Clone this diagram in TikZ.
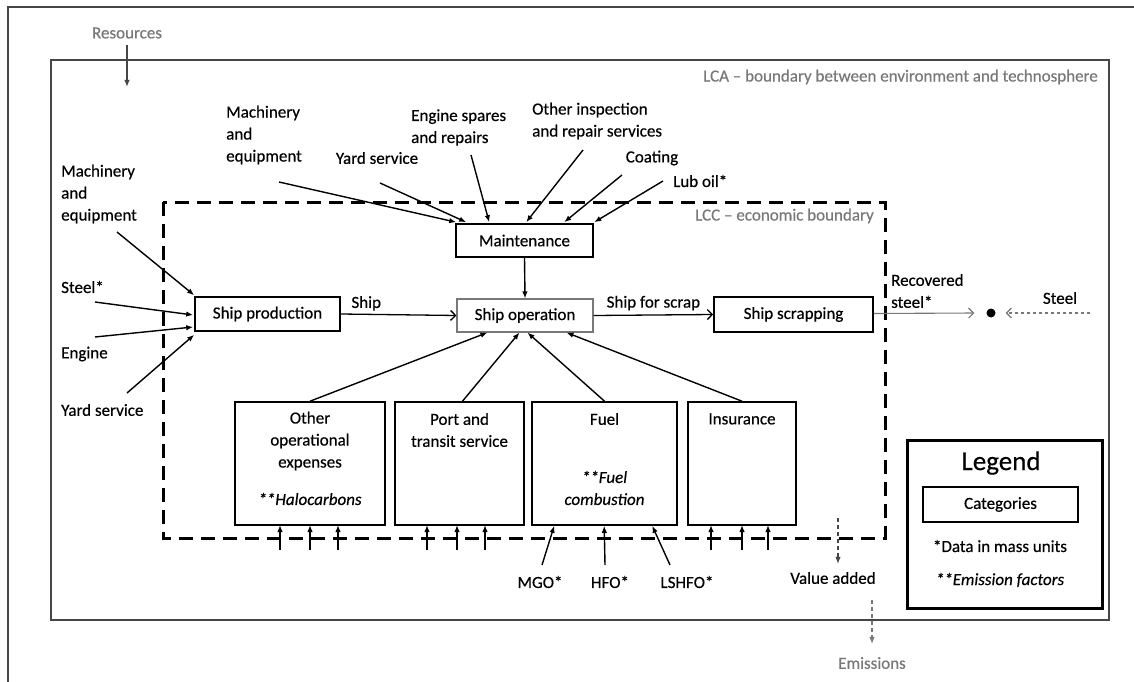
\documentclass[tikz,border=0pt]{standalone}
\usepackage{fontspec}
\setmainfont{Carlito}[FakeBold=0.4]
\usetikzlibrary{arrows.meta,calc}
\definecolor{lgray}{RGB}{120,120,120}
\definecolor{dgray}{RGB}{70,70,70}
\begin{document}
\begin{tikzpicture}[x=1pt,y=-1pt,
  font=\fontsize{17}{22}\selectfont,
  box/.style={draw=black,line width=1.6pt,inner sep=0pt},
  arr/.style={-{Latex[length=7pt,width=5.5pt]},line width=1.4pt},
  oarr/.style={-{Straight Barb[length=5pt,width=10pt]},line width=1.3pt},
  lbl/.style={inner sep=0pt,align=left},
  glbl/.style={inner sep=0pt,text=lgray},
  boxtxt/.style={inner sep=0pt,align=center}]
\useasboundingbox (0,0) rectangle (1134,682);
\fill[white] (0,0) rectangle (1134,682);
% page frame
\draw[dgray,line width=1.5pt] (8,682) -- (8,7) -- (1134,7);
% LCA boundary
\draw[dgray,line width=1.8pt] (51,60) rectangle (1109,620);
\node[glbl,anchor=east] (lcalbl) at (1098,77) {LCA – boundary between environment and technosphere};
% LCC boundary
\draw[black,line width=3pt,dash pattern=on 14pt off 8pt] (163,202) rectangle (885,538);
\node[glbl,anchor=east] (lcclbl) at (874,216) {LCC – economic boundary};
% Resources
\node[glbl] (res) at (127,33) {Resources};
\coordinate (resstart) at (127,45);
\coordinate (resend) at (127,87);
\draw[arr,dgray] (resstart) -- (resend);

% main boxes
\node[box,minimum width=145pt,minimum height=34pt] (sp) at (267.5,314) {Ship production};
\node[box,minimum width=137pt,minimum height=33pt] (mt) at (524.5,240.5) {Maintenance};
\node[box,draw=lgray,line width=1.1pt,minimum width=136pt,minimum height=33pt] (so) at (525,315.5) {Ship operation};
\node[box,minimum width=159pt,minimum height=35pt] (ss) at (793.5,314.5) {Ship scrapping};

% bottom boxes
\node[box,minimum width=150pt,minimum height=123pt] (oe) at (310,463.5) {};
\node[box,minimum width=129pt,minimum height=123pt] (pt) at (459.5,463.5) {};
\node[box,minimum width=145pt,minimum height=123pt] (fu) at (604.5,463.5) {};
\node[box,minimum width=108pt,minimum height=123pt] (in) at (742,463.5) {};
\node[boxtxt] (oet) at (310,441) {Other\\operational\\expenses};
\node[boxtxt] (oeh) at (310,499) {\itshape **Halocarbons};
\node[boxtxt] (ptt) at (459.5,430) {Port and\\transit service};
\node[boxtxt] (fut) at (604.5,419) {Fuel};
\node[boxtxt] (fuc) at (604.5,488) {\itshape **Fuel\\\itshape combustion};
\node[boxtxt] (int) at (742,419) {Insurance};

% left inputs
\node[lbl,anchor=west] (lme) at (61,194) {Machinery\\and\\equipment};
\node[lbl,anchor=west] (lst) at (61,287) {Steel*};
\node[lbl,anchor=west] (len) at (61,354) {Engine};
\node[lbl,anchor=west] (lys) at (61,410) {Yard service};
\coordinate (lmes) at (117,232);
\coordinate (lsts) at (95,302);
\coordinate (lens) at (95,337);
\coordinate (lyss) at (127,393);
\draw[arr] (lmes) -- ($(sp.north west)+(0,-1)$);
\draw[arr] (lsts) -- ($(sp.west)+(-1,1)$);
\draw[arr] (lens) -- ($(sp.west)+(-1,13)$);
\draw[arr] (lyss) -- ($(sp.south west)+(0,3)$);

% top inputs
\node[lbl,anchor=west] (tme) at (226,135) {Machinery\\and\\equipment};
\node[lbl] (tys) at (377,158) {Yard service};
\node[lbl,anchor=west] (tes) at (411,127.5) {Engine spares\\and repairs};
\node[lbl,anchor=west] (toi) at (532,121) {Other inspection\\and repair services};
\node[lbl] (tco) at (652,158) {Coating};
\node[lbl,anchor=west] (tlo) at (673,181) {Lub oil*};
\coordinate (tmes) at (279,182);
\coordinate (tyss) at (380,183);
\coordinate (tess) at (471,155);
\coordinate (tois) at (583,150);
\coordinate (tcos) at (622,175);
\coordinate (tlos) at (663,181);
\draw[arr] (tmes) -- ($(mt.north west)+(1,-1)$);
\draw[arr] (tyss) -- ($(mt.north west)+(11,-1)$);
\draw[arr] (tess) -- ($(mt.north west)+(34,-1)$);
\draw[arr] (tois) -- ($(mt.north west)+(71,-1)$);
\draw[arr] (tcos) -- ($(mt.north west)+(109,-1)$);
\draw[arr] (tlos) -- ($(mt.north west)+(139,-1)$);

% main flow
\draw[oarr] (sp.east) -- (so.west) node[pos=0.22,above=3pt,inner sep=0pt] (shiplbl) {Ship};
\draw[arr] (mt.south) -- (so.north);
\draw[oarr] (so.east) -- (ss.west) node[midway,above=4pt,inner sep=0pt] (sfs) {Ship for scrap};

% recovered steel
\node[circle,fill=black,inner sep=0pt,minimum size=9pt] (dot) at (991,313) {};
\node[lbl,anchor=west] (rsl) at (891,291) {Recovered\\steel*};
\draw[oarr,lgray,line width=1.1pt] ($(ss.east)+(0,-1)$) -- ($(dot.west)+(-12,0)$);
\node[lbl] (stl) at (1060,298) {Steel};
\coordinate (stls) at (1090,313);
\draw[oarr,lgray,line width=1.1pt,dash pattern=on 3pt off 3pt] (stls) -- ($(dot.east)+(10,0)$);

% bottom boxes to ship operation
\draw[arr] (oe.north) -- ($(so.south west)+(31,0)$);
\draw[arr] ($(pt.north)+(3,0)$) -- ($(so.south west)+(63,0)$);
\draw[arr] (fu.north) -- ($(so.south west)+(71,0)$);
\draw[arr] (in.north) -- ($(so.south west)+(110,0)$);

% small inputs under boxes
\foreach \x [count=\i] in {280,310,338} {\coordinate (oi\i) at (\x,550); \draw[arr] (oi\i) -- (\x,525);}
\foreach \x [count=\i] in {427,457,485} {\coordinate (pi\i) at (\x,550); \draw[arr] (pi\i) -- (\x,525);}
\foreach \x [count=\i] in {711,742,768} {\coordinate (ii\i) at (\x,550); \draw[arr] (ii\i) -- (\x,525);}

% fuels
\node[lbl] (mgo) at (540,582) {MGO*};
\node[lbl] (hfo) at (610,582) {HFO*};
\node[lbl] (lsh) at (687,582) {LSHFO*};
\coordinate (mgos) at (542,565);
\coordinate (hfos) at (605,565);
\coordinate (lshs) at (670,565);
\draw[arr] (mgos) -- ($(fu.south west)+(23,0)$);
\draw[arr] (hfos) -- ($(fu.south west)+(73,0)$);
\draw[arr] (lshs) -- ($(fu.south west)+(121,0)$);

% value added / emissions
\node[lbl] (va) at (833,578) {Value added};
\coordinate (vas) at (838,518);
\draw[arr,dgray,line width=1.1pt,dash pattern=on 4pt off 3pt] (vas) -- ($(va.north)+(5,-8)$);
\node[glbl] (em) at (872,663) {Emissions};
\coordinate (ems) at (872,600);
\draw[arr,lgray,line width=1.1pt,dash pattern=on 4pt off 3pt] (ems) -- ($(em.north)+(0,-13)$);

% legend
\node[draw=black,line width=3pt,minimum width=195pt,minimum height=168pt,inner sep=0pt] (leg) at (1004.5,524) {};
\node[inner sep=0pt,font=\fontsize{27}{30}\selectfont] (legt) at (1001,463) {Legend};
\node[box,minimum width=155pt,minimum height=35pt] (cat) at (1000.5,504.5) {Categories};
\node[inner sep=0pt] (dmu) at (1000,546) {*Data in mass units};
\node[inner sep=0pt] (emf) at (1000,580) {\itshape **Emission factors};
\end{tikzpicture}
\end{document}
